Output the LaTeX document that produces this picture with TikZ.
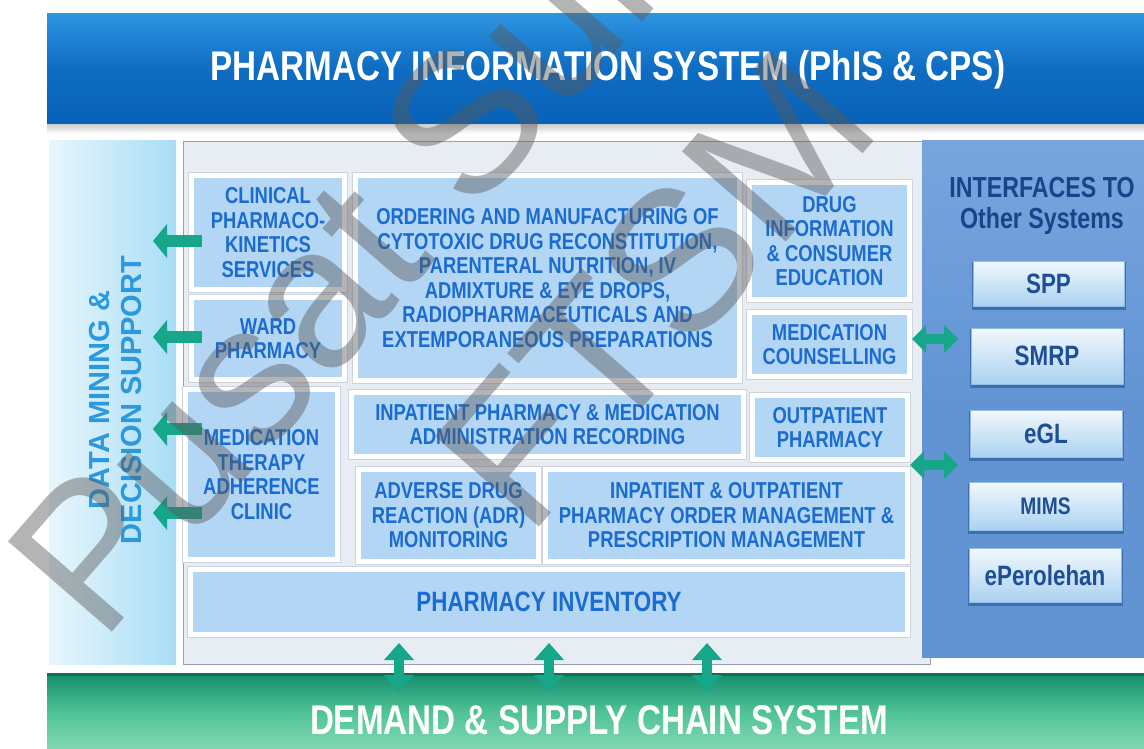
\documentclass[tikz,border=0pt]{standalone}
\usepackage{fontspec}
\setmainfont{Liberation Sans}
\newfontfamily\narrowsans{Liberation Sans}[FakeStretch=0.8]
\usetikzlibrary{arrows.meta}

\definecolor{boxblue}{RGB}{180,214,245}
\definecolor{boxtext}{RGB}{26,108,208}
\definecolor{framegray}{RGB}{205,212,222}
\definecolor{coregray}{RGB}{232,237,243}
\definecolor{coreedge}{RGB}{150,160,176}
\definecolor{ifcblue}{RGB}{98,148,212}
\definecolor{ifctop}{RGB}{120,165,222}
\definecolor{ifctext}{RGB}{25,68,138}
\definecolor{btntop}{RGB}{242,248,253}
\definecolor{btnbot}{RGB}{170,210,240}
\definecolor{btnedge}{RGB}{150,188,228}
\definecolor{btnshade}{RGB}{62,110,178}
\definecolor{btntext}{RGB}{30,78,152}
\definecolor{arrowgreen}{RGB}{22,166,138}
\definecolor{dmtext}{RGB}{44,152,222}
\definecolor{dmleft}{RGB}{232,246,252}
\definecolor{dmright}{RGB}{168,221,246}
\definecolor{bantop}{RGB}{45,148,224}
\definecolor{banmid}{RGB}{14,108,194}
\definecolor{banbot}{RGB}{8,98,182}
\definecolor{grntop}{RGB}{20,140,108}
\definecolor{grnmid}{RGB}{78,194,150}
\definecolor{grnbot}{RGB}{132,216,180}
\definecolor{wmgray}{RGB}{90,90,90}

\newcommand\fBox{\narrowsans\bfseries\fontsize{23pt}{24.5pt}\selectfont}
\newcommand\fBtn{\narrowsans\bfseries\fontsize{28pt}{30pt}\selectfont}
\newcommand\fTitle{\narrowsans\bfseries\fontsize{41.5pt}{44pt}\selectfont}
\newcommand\fIfc{\narrowsans\bfseries\fontsize{29pt}{31pt}\selectfont}
\newcommand\fSide{\bfseries\fontsize{29pt}{32pt}\selectfont}
\newcommand\fStamp{\fontsize{200pt}{230pt}\selectfont}

\begin{document}
\begin{tikzpicture}[x=1pt,y=-1pt,
  mod/.style={draw=white,line width=5pt,fill=boxblue,text=boxtext,font=\fBox,
    align=center,inner sep=0pt,
    preaction={draw=framegray,line width=7pt}},
  btn/.style={top color=btntop,bottom color=btnbot,draw=btnedge,line width=0.8pt,
    text=btntext,font=\fBtn,inner sep=0pt,
    preaction={draw=btnshade,line width=3pt,transform canvas={yshift=-2pt}}},
  toleft/.style={draw=arrowgreen,line width=12pt,
    -{Triangle[width=34pt,length=14pt,line width=0pt]}},
  hdbl/.style={draw=arrowgreen,line width=10pt,
    {Triangle[width=28pt,length=14pt,line width=0pt]}-{Triangle[width=28pt,length=14pt,line width=0pt]}},
  vdbl/.style={draw=arrowgreen,line width=10pt,
    {Triangle[width=30pt,length=17pt,line width=0pt]}-{Triangle[width=30pt,length=17pt,line width=0pt]}},
  plain/.style={inner sep=0pt,outer sep=0pt},
  stamptext/.style={font=\fStamp,text=wmgray,text opacity=0.45,inner sep=0pt,rotate=49,anchor=base west}
]
\useasboundingbox (0,0) rectangle (1144,749);
\clip (0,0) rectangle (1144,749);
\fill[white] (0,0) rectangle (1144,749);

% top banner
\node[plain,anchor=north west,minimum width=1097pt,minimum height=111pt,
  top color=bantop,bottom color=banbot,middle color=banmid] (banner) at (47,14) {};
\fill[top color=black!18,bottom color=white] (47,125) rectangle (1144,134);
\node[plain,anchor=base,font=\fTitle,text=white] (title) at (608,81)
  {PHARMACY INFORMATION SYSTEM (PhIS \& CPS)};

% side panel: data mining
\node[plain,anchor=north west,minimum width=127pt,minimum height=523pt,
  left color=dmleft,right color=dmright] (dm) at (49,141) {};
\node[plain,rotate=90,align=center,font=\fSide,text=dmtext] (dmtitle) at (116,400)
  {DATA MINING \&\\DECISION SUPPORT};

% core container
\node[plain,anchor=north west,minimum width=747pt,minimum height=522pt,
  fill=coregray,draw=coreedge,line width=1pt] (core) at (183,142) {};

% interfaces panel
\node[plain,anchor=north west,minimum width=222pt,minimum height=516pt,
  top color=ifctop,bottom color=ifcblue,middle color=ifcblue] (ifc) at (922,141) {};
\node[plain,anchor=base,font=\fIfc,text=ifctext] (ifcA) at (1042,197) {INTERFACES TO};
\node[plain,anchor=base,font=\fIfc,text=ifctext] (ifcB) at (1042,228) {Other Systems};

\node[btn,minimum width=151pt,minimum height=45pt] (spp) at (1048.5,283.5) {SPP};
\node[btn,minimum width=152pt,minimum height=56pt] (smrp) at (1047,356) {SMRP};
\node[btn,minimum width=152pt,minimum height=47pt] (egl) at (1046,433.5) {eGL};
\node[btn,minimum width=153pt,minimum height=48pt,font=\narrowsans\bfseries\fontsize{24pt}{26pt}\selectfont] (mims) at (1045.5,506) {MIMS};
\node[btn,minimum width=152pt,minimum height=54pt] (eper) at (1045,575) {ePerolehan};

% bottom banner
\node[plain,anchor=north west,minimum width=1097pt,minimum height=76pt,
  top color=grntop,bottom color=grnbot,middle color=grnmid] (supply) at (47,673) {};
\fill[grntop!80!black] (47,673) rectangle (1144,676);
\node[plain,anchor=base,font=\fTitle,text=white] (supplytitle) at (599,734)
  {DEMAND \& SUPPLY CHAIN SYSTEM};

% modules
\node[mod,minimum width=153pt,minimum height=114pt] (cps) at (268,232.5)
  {CLINICAL\\PHARMACO-\\KINETICS\\SERVICES};
\node[mod,minimum width=153pt,minimum height=82pt] (ward) at (268,338.5)
  {WARD\\PHARMACY};
\node[mod,minimum width=384pt,minimum height=205pt] (ord) at (547.5,278)
  {ORDERING AND MANUFACTURING OF\\CYTOTOXIC DRUG RECONSTITUTION,\\PARENTERAL NUTRITION, IV\\ADMIXTURE \& EYE DROPS,\\RADIOPHARMACEUTICALS AND\\EXTEMPORANEOUS PREPARATIONS};
\node[mod,minimum width=160pt,minimum height=117pt] (dic) at (829.5,241)
  {DRUG\\INFORMATION\\\& CONSUMER\\EDUCATION};
\node[mod,minimum width=160pt,minimum height=64pt] (mc) at (829.5,344.5)
  {MEDICATION\\COUNSELLING};
\node[mod,minimum width=152pt,minimum height=170pt] (mtac) at (261.5,474.5)
  {MEDICATION\\THERAPY\\ADHERENCE\\CLINIC};
\node[mod,minimum width=392pt,minimum height=64pt] (ipm) at (547.5,424.5)
  {INPATIENT PHARMACY \& MEDICATION\\ADMINISTRATION RECORDING};
\node[mod,minimum width=155pt,minimum height=64pt] (opp) at (830,427.5)
  {OUTPATIENT\\PHARMACY};
\node[mod,minimum width=180pt,minimum height=92pt] (adr) at (448.5,515.5)
  {ADVERSE DRUG\\REACTION (ADR)\\MONITORING};
\node[mod,minimum width=362pt,minimum height=92pt] (iopm) at (726.5,515.5)
  {INPATIENT \& OUTPATIENT\\PHARMACY ORDER MANAGEMENT \&\\PRESCRIPTION MANAGEMENT};
\node[mod,minimum width=717pt,minimum height=65pt,font=\narrowsans\bfseries\fontsize{28pt}{30pt}\selectfont] (inv) at (549,602)
  {PHARMACY INVENTORY};

% arrow ends inside the side panels and the supply banner
\coordinate (dm1) at (153,241);
\coordinate (dm2) at (153,337);
\coordinate (dm3) at (153,429);
\coordinate (dm4) at (153,513);
\coordinate (if1) at (958,339);
\coordinate (if2) at (958,465);
\coordinate (sc1) at (399,692);
\coordinate (sc2) at (549,692);
\coordinate (sc3) at (707,692);

\draw[toleft] ([xshift=13pt]dm1 -| cps.west) -- (dm1);
\draw[toleft] ([xshift=13pt]dm2 -| ward.west) -- (dm2);
\draw[toleft] ([xshift=19pt]dm3 -| mtac.west) -- (dm3);
\draw[toleft] ([xshift=19pt]dm4 -| mtac.west) -- (dm4);

\draw[hdbl] (if1 -| mc.east) -- (if1);
\draw[hdbl] (if2 -| opp.east) -- (if2);

\draw[vdbl] ([yshift=-6pt]sc1 |- inv.south) -- (sc1);
\draw[vdbl] ([yshift=-6pt]sc2 |- inv.south) -- (sc2);
\draw[vdbl] ([yshift=-6pt]sc3 |- inv.south) -- (sc3);

% library stamp across the sheet
\node[stamptext] (stampA) at (101,645) {Pusat Sumber};
\node[stamptext] (stampB) at (528,540) {FTSM};
\end{tikzpicture}
\end{document}
